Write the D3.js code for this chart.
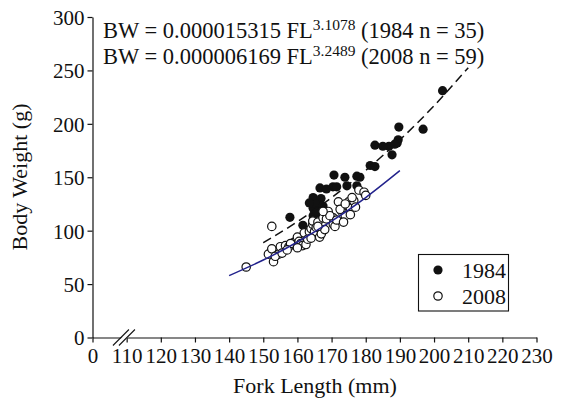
<!DOCTYPE html>
<html>
<head>
<meta charset="utf-8">
<script src="https://cdn.jsdelivr.net/npm/d3@7"></script>
<style>
  body { margin: 0; background: #fff; }
  svg text { font-family: "Liberation Serif", "Times New Roman", Tinos, "DejaVu Serif", serif; fill: #111; }
</style>
</head>
<body>
<svg id="viz"></svg>
<script>

// the data
// 1984 fish (filled), fork length mm / body weight g
var fl1984 = [202.5, 189.7, 196.8, 182.7, 186.8, 189.5, 189.2, 187.7, 181.3, 182.7,
              178.3, 170.7, 173.9, 177.4, 170.4, 174.5, 177.4, 166.6, 164.6, 166.9,
              164.6, 166.6, 164.6, 166.6, 157.8, 161.6, 164.6, 165.5, 165.8, 168.5,
              171.5, 185.0, 188.5, 163.5, 167.5];
var bw1984 = [231, 197, 195, 180, 179, 185, 182, 171, 161, 160,
              150, 152, 150, 151, 141, 142, 142, 140, 131, 130,
              121, 120, 114, 116, 112.5, 105, 110, 125, 118, 139,
              141, 179, 181, 126, 123];

// 2008 fish (open)
var fl2008 = [145, 152.5, 151.5, 152.5, 153, 154.5, 155, 153.5, 156.5, 157.5,
              159, 160, 160.5, 161, 161.5, 162.5, 162.5, 162, 163.5, 164,
              164.5, 164.5, 165, 165.5, 166.5, 167, 166, 167.5, 168.5, 169,
              170.5, 171, 170.5, 172, 173, 174, 175, 175.5, 176.5, 175.5,
              178, 179.5, 177, 172.5, 168, 163, 158, 155.5, 160, 166,
              169.5, 174, 171.5, 164, 157, 173.5, 167.5, 176, 180];
var bw2008 = [66, 104, 78, 83, 71, 78, 85, 76, 86, 85,
              89, 94, 90, 88, 86, 87, 95, 98, 99, 102,
              106, 109, 99, 103, 94, 97, 108, 112, 111, 118,
              106, 104, 112, 127, 118, 114, 127, 121, 128, 115,
              138, 136, 122, 120, 101, 92, 88, 79, 84, 104,
              114, 125, 110, 93, 82, 108, 118, 131, 133];

// fitted curves
var curveFl1984 = [150, 160, 170, 180, 190, 200, 210];
var curveBw1984 = [88.7, 108.4, 130.9, 156.4, 185.0, 216.9, 252.5];
var curveFl2008 = [140, 150, 160, 170, 180, 190];
var curveBw2008 = [57.9, 72.5, 89.4, 108.9, 131.0, 156.2];

var xTicks = [100, 110, 120, 130, 140, 150, 160, 170, 180, 190, 200, 210, 220, 230];
var yTicks = [0, 50, 100, 150, 200, 250, 300];
var legendLabels = ["1984", "2008"];

var serif = "'Liberation Serif', 'Times New Roman', Tinos, 'DejaVu Serif', serif";

// set up the svg
var w = 562;
var h = 403;
var svg = d3.select("#viz").attr("width", w).attr("height", h);

var x = d3.scaleLinear().domain([100, 230]).range([92.5, 536.5]);
var y = d3.scaleLinear().domain([0, 300]).range([337.5, 17]);

// axes
var xAxis = d3.axisBottom(x).tickValues(xTicks).tickSize(5).tickSizeOuter(0)
  .tickFormat(function(d) { return d === 100 ? "0" : d; });
var gx = svg.append("g").attr("transform", "translate(0," + y(0) + ")").call(xAxis);
gx.attr("font-family", serif);
gx.selectAll("text").attr("dy", "0.95em").attr("y", 6)
  .style("font-size", "21px").style("font-family", serif);

var yAxis = d3.axisLeft(y).tickValues(yTicks).tickSize(5).tickSizeOuter(0);
var gy = svg.append("g").attr("transform", "translate(" + x(100) + ",0)").call(yAxis);
gy.attr("font-family", serif);
gy.selectAll("text").attr("x", -8).attr("dy", "0.35em")
  .style("font-size", "21px").style("font-family", serif);

svg.selectAll(".domain, .tick line").attr("stroke", "#111").attr("stroke-width", 1.2);

// axis break marks
var bx = x(109.5), by = y(0);
svg.append("polygon")
  .attr("points", [[bx - 11, by + 8], [bx - 5, by + 8], [bx + 11, by - 8], [bx + 5, by - 8]].join(" "))
  .attr("fill", "#fff");
[-8, -2].forEach(function(o) {
  svg.append("line")
    .attr("x1", bx + o - 4).attr("y1", by + 8)
    .attr("x2", bx + o + 12).attr("y2", by - 8)
    .attr("stroke", "#111").attr("stroke-width", 1.1);
});

// points
var pts1984 = fl1984.map(function(d, i) { return [d, bw1984[i]]; });
var pts2008 = fl2008.map(function(d, i) { return [d, bw2008[i]]; });

svg.append("g").selectAll("circle").data(pts1984).enter().append("circle")
  .attr("cx", function(d) { return x(d[0]); })
  .attr("cy", function(d) { return y(d[1]); })
  .attr("r", 4.6).attr("fill", "#111");

svg.append("g").selectAll("circle").data(pts2008).enter().append("circle")
  .attr("cx", function(d) { return x(d[0]); })
  .attr("cy", function(d) { return y(d[1]); })
  .attr("r", 4.2).attr("fill", "#fff").attr("stroke", "#111").attr("stroke-width", 1.2);

// trend lines
var line = d3.line()
  .x(function(d) { return x(d[0]); })
  .y(function(d) { return y(d[1]); })
  .curve(d3.curveNatural);

svg.append("path")
  .attr("d", line(curveFl1984.map(function(d, i) { return [d, curveBw1984[i]]; })))
  .attr("fill", "none").attr("stroke", "#111").attr("stroke-width", 1.5)
  .attr("stroke-dasharray", "9,5");

svg.append("path")
  .attr("d", line(curveFl2008.map(function(d, i) { return [d, curveBw2008[i]]; })))
  .attr("fill", "none").attr("stroke", "#22228c").attr("stroke-width", 1.5);

// equations
var eq = [
  ["BW = 0.000015315 FL", "3.1078", " (1984 n = 35)"],
  ["BW = 0.000006169 FL", "3.2489", " (2008 n = 59)"]
];
eq.forEach(function(e, i) {
  var t = svg.append("text").attr("x", 103).attr("y", 38 + i * 25.5)
    .style("font-size", "22.5px").style("font-family", serif);
  t.append("tspan").text(e[0]);
  t.append("tspan").attr("dy", -8).style("font-size", "15.5px").text(e[1]);
  t.append("tspan").attr("dy", 8).text(e[2]);
});

// axis titles
svg.append("text").attr("x", 315).attr("y", 393).attr("text-anchor", "middle")
  .style("font-size", "22px").style("font-family", serif).text("Fork Length (mm)");
svg.append("text").attr("transform", "translate(27," + 177 + ") rotate(-90)")
  .attr("text-anchor", "middle").style("font-size", "22px").style("font-family", serif)
  .text("Body Weight (g)");

// legend
var lg = svg.append("g");
lg.append("rect").attr("x", 418.5).attr("y", 254.5).attr("width", 90).attr("height", 56.5)
  .attr("fill", "#fff").attr("stroke", "#111").attr("stroke-width", 1.1);
legendLabels.forEach(function(d, i) {
  var cy = 270 + i * 26;
  lg.append("circle").attr("cx", 438).attr("cy", cy).attr("r", i === 0 ? 4.6 : 4.2)
    .attr("fill", i === 0 ? "#111" : "#fff").attr("stroke", "#111").attr("stroke-width", i === 0 ? 0 : 1.2);
  lg.append("text").attr("x", 462).attr("y", cy + 7.5)
    .style("font-size", "22px").style("font-family", serif).text(d);
});

</script>
</body>
</html>
